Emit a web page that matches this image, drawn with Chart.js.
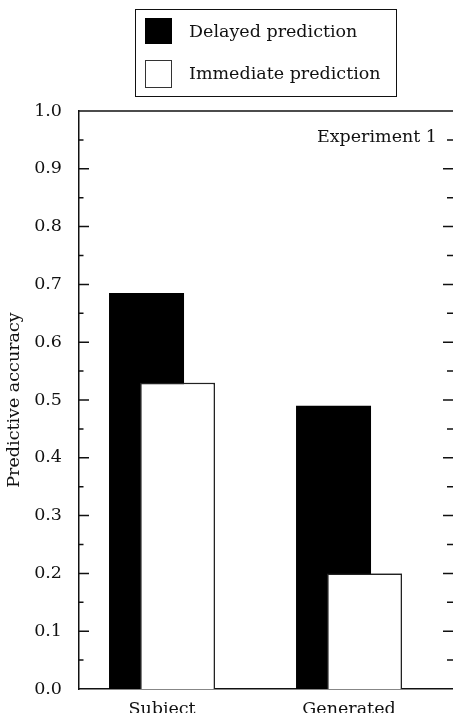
<!DOCTYPE html>
<html>
<head>
<meta charset="utf-8">
<script src="https://cdn.jsdelivr.net/npm/chart.js@4.4.1/dist/chart.umd.min.js"></script>
<style>
  html, body { margin: 0; padding: 0; background: #fff; }
  #wrap { position: relative; width: 453px; height: 713px; }
  #chart { position: absolute; left: 0; top: 0; }
  .lg { position: absolute; font-family: 'DejaVu Serif', serif; font-size: 17.5px; color: #111; line-height: 24px; white-space: nowrap; }
  #lgbox { position: absolute; left: 135px; top: 9px; width: 262px; height: 88px; border: 1.5px solid #111; box-sizing: border-box; }
  #sq1 { position: absolute; left: 145px; top: 18px; width: 27px; height: 26px; background: #000; }
  #sq2 { position: absolute; left: 145px; top: 60px; width: 27px; height: 28px; background: #fff; border: 1.5px solid #333; box-sizing: border-box; }
</style>
</head>
<body>
<div id="wrap">
  <canvas id="chart" width="453" height="713"></canvas>
  <div id="lgbox"></div>
  <div id="sq1"></div>
  <div id="sq2"></div>
  <div class="lg" id="t1" style="left:189px; top:19px;"></div>
  <div class="lg" id="t2" style="left:189px; top:61px;"></div>
</div>
<script>
// ---- data ----
const categories = ['Subject', 'Generated'];
const delayedPrediction = [0.685, 0.49];
const immediatePrediction = [0.53, 0.2];
const yTickValues = [0.0, 0.1, 0.2, 0.3, 0.4, 0.5, 0.6, 0.7, 0.8, 0.9, 1.0];
const seriesNames = ['Delayed prediction', 'Immediate prediction'];
const panelLabel = 'Experiment 1';
const yTitle = 'Predictive accuracy';

document.getElementById('t1').textContent = seriesNames[0];
document.getElementById('t2').textContent = seriesNames[1];

const FONT = "'DejaVu Serif', serif";
const xPos = categories.map((c, i) => i + 1);

// draw the immediate (front) bars over the delayed (back) bars
const frontPlugin = {
  id: 'front',
  afterDatasetsDraw(chart) {
    const ctx = chart.ctx;
    const a = chart.chartArea;
    ctx.save();
    ctx.beginPath();
    ctx.rect(a.left, a.top, a.right - a.left, a.bottom - a.top);
    ctx.clip();
    chart.getDatasetMeta(1).data.forEach(el => el.draw(ctx, a));
    ctx.restore();
  }
};

const framePlugin = {
  id: 'frame',
  afterDraw(chart) {
    const ctx = chart.ctx;
    const a = chart.chartArea;
    const y = chart.scales.y;
    ctx.save();
    ctx.strokeStyle = '#111';
    ctx.lineWidth = 1.5;
    ctx.beginPath();
    ctx.moveTo(a.left, a.top);
    ctx.lineTo(a.right, a.top);
    ctx.stroke();
    // inward tick marks (major and minor), left and right
    ctx.beginPath();
    for (let i = 0; i < yTickValues.length; i++) {
      const v = yTickValues[i];
      const py = y.getPixelForValue(v);
      if (i > 0 && i < yTickValues.length - 1) {
        ctx.moveTo(a.left, py); ctx.lineTo(a.left + 10, py);
        ctx.moveTo(a.right, py); ctx.lineTo(a.right - 10, py);
      }
      if (i < yTickValues.length - 1) {
        const pm = y.getPixelForValue((v + yTickValues[i + 1]) / 2);
        ctx.moveTo(a.left, pm); ctx.lineTo(a.left + 4.5, pm);
        ctx.moveTo(a.right, pm); ctx.lineTo(a.right - 6, pm);
      }
    }
    ctx.stroke();
    ctx.fillStyle = '#111';
    ctx.font = "17.5px " + FONT;
    ctx.textAlign = 'right';
    ctx.textBaseline = 'alphabetic';
    ctx.fillText(panelLabel, a.right - 16, a.top + 31);
    ctx.restore();
  }
};

new Chart(document.getElementById('chart'), {
  type: 'bar',
  data: {
    datasets: [
      {
        label: seriesNames[0],
        data: delayedPrediction.map((v, i) => ({ x: xPos[i], y: v })),
        backgroundColor: '#000',
        borderWidth: 0
      },
      {
        label: seriesNames[1],
        data: immediatePrediction.map((v, i) => ({ x: xPos[i], y: v })),
        backgroundColor: '#fff',
        borderColor: '#222',
        borderWidth: 1.5,
        borderSkipped: 'start'
      }
    ]
  },
  options: {
    responsive: false,
    devicePixelRatio: 1,
    animation: false,
    layout: { padding: { top: 111, right: 0, bottom: 0, left: 0 } },
    datasets: {
      bar: {
        grouped: true,
        categoryPercentage: 62 / 187,
        barPercentage: 75 / 31
      }
    },
    plugins: {
      legend: { display: false },
      tooltip: { enabled: false },
      title: { display: false }
    },
    scales: {
      x: {
        type: 'linear',
        position: 'bottom',
        offset: false,
        bounds: 'data',
        min: 0.556,
        max: 2.556,
        afterBuildTicks: (s) => { s.ticks = xPos.map(v => ({ value: v })); },
        afterFit: (s) => { s.height = 24; },
        grid: { display: false, offset: false },
        border: { display: true, color: '#111', width: 1.5 },
        ticks: {
          color: '#111',
          font: { family: FONT, size: 17.5 },
          padding: 2,
          maxRotation: 0,
          autoSkip: false,
          callback: (v, i) => categories[i]
        }
      },
      y: {
        type: 'linear',
        position: 'left',
        min: 0,
        max: 1,
        afterBuildTicks: (s) => { s.ticks = yTickValues.map(v => ({ value: v })); },
        afterFit: (s) => { s.width = 79; },
        grid: { display: false },
        border: { display: true, color: '#111', width: 1.5 },
        ticks: {
          color: '#111',
          font: { family: FONT, size: 17.5 },
          padding: 9,
          callback: (v) => Number(v).toFixed(1)
        },
        title: {
          display: true,
          text: yTitle,
          color: '#111',
          font: { family: FONT, size: 17.5 },
          padding: { top: 4, bottom: 0 }
        }
      }
    }
  },
  plugins: [frontPlugin, framePlugin]
});
</script>
</body>
</html>
